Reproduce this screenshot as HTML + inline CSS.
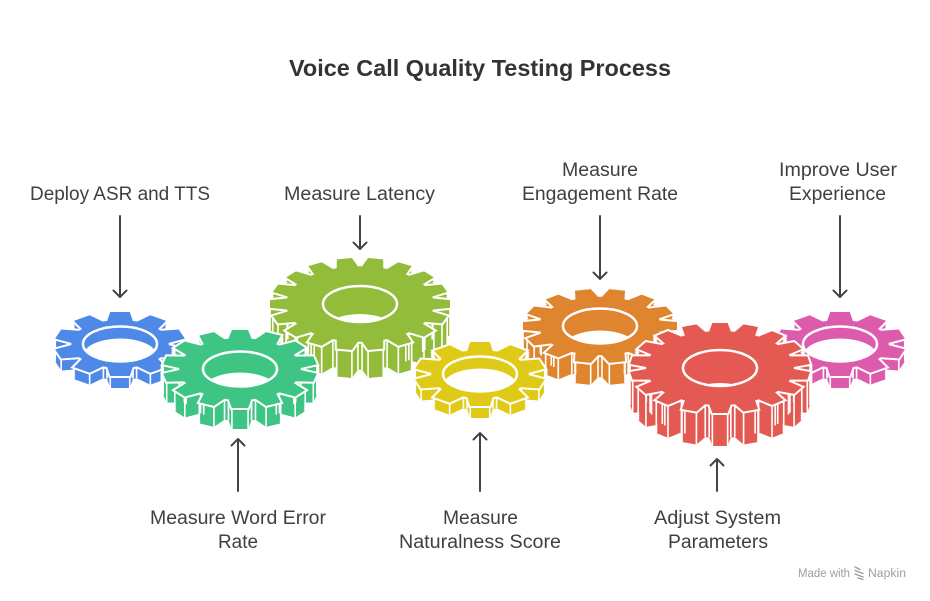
<!DOCTYPE html>
<html>
<head>
<meta charset="utf-8">
<style>
  html,body{margin:0;padding:0;background:#fff;}
  svg{display:block;}
  text{font-family:"Liberation Sans",Arial,sans-serif;}
</style>
</head>
<body>
<svg width="930" height="601" viewBox="0 0 930 601" xmlns="http://www.w3.org/2000/svg">
<rect width="930" height="601" fill="#fff"/>
<defs>
  <g id="g10">
    <circle r="75" vector-effect="non-scaling-stroke"/>
    <polygon id="t10" points="-20,-71 -15,-100 15,-100 20,-71" vector-effect="non-scaling-stroke"/>
    <use href="#t10" transform="rotate(36)"/>
    <use href="#t10" transform="rotate(72)"/>
    <use href="#t10" transform="rotate(108)"/>
    <use href="#t10" transform="rotate(144)"/>
    <use href="#t10" transform="rotate(180)"/>
    <use href="#t10" transform="rotate(216)"/>
    <use href="#t10" transform="rotate(252)"/>
    <use href="#t10" transform="rotate(288)"/>
    <use href="#t10" transform="rotate(324)"/>
  </g>
  <g id="g14">
    <circle r="79" vector-effect="non-scaling-stroke"/>
    <polygon id="t14" points="-15,-77.5 -10.5,-100 10.5,-100 15,-77.5" vector-effect="non-scaling-stroke"/>
    <use href="#t14" transform="rotate(25.714)"/>
    <use href="#t14" transform="rotate(51.429)"/>
    <use href="#t14" transform="rotate(77.143)"/>
    <use href="#t14" transform="rotate(102.857)"/>
    <use href="#t14" transform="rotate(128.571)"/>
    <use href="#t14" transform="rotate(154.286)"/>
    <use href="#t14" transform="rotate(180)"/>
    <use href="#t14" transform="rotate(205.714)"/>
    <use href="#t14" transform="rotate(231.429)"/>
    <use href="#t14" transform="rotate(257.143)"/>
    <use href="#t14" transform="rotate(282.857)"/>
    <use href="#t14" transform="rotate(308.571)"/>
    <use href="#t14" transform="rotate(334.286)"/>
  </g>
  <g id="g18">
    <circle r="82" vector-effect="non-scaling-stroke"/>
    <polygon id="t18" points="-12,-81 -8.5,-100 8.5,-100 12,-81" vector-effect="non-scaling-stroke"/>
    <use href="#t18" transform="rotate(20)"/>
    <use href="#t18" transform="rotate(40)"/>
    <use href="#t18" transform="rotate(60)"/>
    <use href="#t18" transform="rotate(80)"/>
    <use href="#t18" transform="rotate(100)"/>
    <use href="#t18" transform="rotate(120)"/>
    <use href="#t18" transform="rotate(140)"/>
    <use href="#t18" transform="rotate(160)"/>
    <use href="#t18" transform="rotate(180)"/>
    <use href="#t18" transform="rotate(200)"/>
    <use href="#t18" transform="rotate(220)"/>
    <use href="#t18" transform="rotate(240)"/>
    <use href="#t18" transform="rotate(260)"/>
    <use href="#t18" transform="rotate(280)"/>
    <use href="#t18" transform="rotate(300)"/>
    <use href="#t18" transform="rotate(320)"/>
    <use href="#t18" transform="rotate(340)"/>
  </g>

  <!-- vertical side-edge lines (unit coords) -->
  <path id="L10" vector-effect="non-scaling-stroke" d="M99.7 -16.6v37.5M73.7 -2.9v37.5M90.5 45.2v37.5M99.7 16.6v37.5M61.3 40.9v37.5M73.7 2.9v37.5M46.7 89.7v37.5M70.9 72.1v37.5M25.5 69.2v37.5M57.9 45.6v37.5M15 100v37.5M20 71v37.5M-15 100v37.5M-20 71v37.5M-99.7 -16.6v37.5M-73.7 -2.9v37.5M-90.5 45.2v37.5M-99.7 16.6v37.5M-61.3 40.9v37.5M-73.7 2.9v37.5M-46.7 89.7v37.5M-70.9 72.1v37.5M-25.5 69.2v37.5M-57.9 45.6v37.5"/>
  <path id="L14g" vector-effect="non-scaling-stroke" d="M99.8 -12.1v53.8M78.9 -2.6v53.8M95.2 32.5v53.8M99.8 12.1v53.8M72.3 31.8v53.8M78.9 2.6v53.8M71.7 70.6v53.8M84.7 54.2v53.8M51.2 60v53.8M70 36.6v53.8M33.9 94.7v53.8M52.9 85.5v53.8M20.1 76.3v53.8M47.1 63.3v53.8M10.5 100v53.8M15 77.5v53.8M-99.8 -12.1v53.8M-78.9 -2.6v53.8M-95.2 32.5v53.8M-99.8 12.1v53.8M-72.3 31.8v53.8M-78.9 2.6v53.8M-71.7 70.6v53.8M-84.7 54.2v53.8M-51.2 60v53.8M-70 36.6v53.8M-33.9 94.7v53.8M-52.9 85.5v53.8M-20.1 76.3v53.8M-47.1 63.3v53.8M-10.5 100v53.8M-15 77.5v53.8"/>
  <path id="L14o" vector-effect="non-scaling-stroke" d="M100 10.5v59.5M100 -10.5v59.5M77.5 15v59.5M77.5 -15v59.5M85.5 52.9v59.5M94.7 33.9v59.5M63.3 47.1v59.5M76.3 20.1v59.5M54.2 84.7v59.5M70.6 71.7v59.5M36.6 70v59.5M60 51.2v59.5M12.1 99.8v59.5M32.5 95.2v59.5M2.6 78.9v59.5M31.8 72.3v59.5M-100 10.5v59.5M-100 -10.5v59.5M-77.5 15v59.5M-77.5 -15v59.5M-85.5 52.9v59.5M-94.7 33.9v59.5M-63.3 47.1v59.5M-76.3 20.1v59.5M-54.2 84.7v59.5M-70.6 71.7v59.5M-36.6 70v59.5M-60 51.2v59.5M-12.1 99.8v59.5M-32.5 95.2v59.5M-2.6 78.9v59.5M-31.8 72.3v59.5"/>
  <path id="L18r" vector-effect="non-scaling-stroke" d="M100 -9v73.3M81.9 -2.3v73.3M97 25.8v73.3M100 9v73.3M77.7 25.9v73.3M81.9 2.3v73.3M82.3 57.4v73.3M90.9 42.6v73.3M64.1 50.9v73.3M76.1 30.1v73.3M57.8 82.1v73.3M70.8 71.1v73.3M42.9 69.7v73.3M61.3 54.3v73.3M26.2 96.9v73.3M42.2 91.1v73.3M16.4 80.2v73.3M39 72v73.3M8.5 100v73.3M12 81v73.3M-100 -9v73.3M-81.9 -2.3v73.3M-97 25.8v73.3M-100 9v73.3M-77.7 25.9v73.3M-81.9 2.3v73.3M-82.3 57.4v73.3M-90.9 42.6v73.3M-64.1 50.9v73.3M-76.1 30.1v73.3M-57.8 82.1v73.3M-70.8 71.1v73.3M-42.9 69.7v73.3M-61.3 54.3v73.3M-26.2 96.9v73.3M-42.2 91.1v73.3M-16.4 80.2v73.3M-39 72v73.3M-8.5 100v73.3M-12 81v73.3"/>
  <path id="L18o" vector-effect="non-scaling-stroke" d="M100 8.5v60.9M100 -8.5v60.9M81 12v60.9M81 -12v60.9M91.1 42.2v60.9M96.9 26.2v60.9M72 39v60.9M80.2 16.4v60.9M71.1 70.8v60.9M82.1 57.8v60.9M54.3 61.3v60.9M69.7 42.9v60.9M42.6 90.9v60.9M57.4 82.3v60.9M30.1 76.1v60.9M50.9 64.1v60.9M9 100v60.9M25.8 97v60.9M2.3 81.9v60.9M25.9 77.7v60.9M-100 8.5v60.9M-100 -8.5v60.9M-81 12v60.9M-81 -12v60.9M-91.1 42.2v60.9M-96.9 26.2v60.9M-72 39v60.9M-80.2 16.4v60.9M-71.1 70.8v60.9M-82.1 57.8v60.9M-54.3 61.3v60.9M-69.7 42.9v60.9M-42.6 90.9v60.9M-57.4 82.3v60.9M-30.1 76.1v60.9M-50.9 64.1v60.9M-9 100v60.9M-25.8 97v60.9M-2.3 81.9v60.9M-25.9 77.7v60.9"/>

  <!-- extrusion stacks -->
  <g id="S_olive">
    <use href="#g18" transform="translate(360,332) scale(.9,.46) rotate(10)"/>
    <use href="#g18" transform="translate(360,330) scale(.9,.46) rotate(10)"/>
    <use href="#g18" transform="translate(360,328) scale(.9,.46) rotate(10)"/>
    <use href="#g18" transform="translate(360,326) scale(.9,.46) rotate(10)"/>
    <use href="#g18" transform="translate(360,324) scale(.9,.46) rotate(10)"/>
    <use href="#g18" transform="translate(360,322) scale(.9,.46) rotate(10)"/>
    <use href="#g18" transform="translate(360,320) scale(.9,.46) rotate(10)"/>
    <use href="#g18" transform="translate(360,318) scale(.9,.46) rotate(10)"/>
    <use href="#g18" transform="translate(360,316) scale(.9,.46) rotate(10)"/>
    <use href="#g18" transform="translate(360,314) scale(.9,.46) rotate(10)"/>
    <use href="#g18" transform="translate(360,312) scale(.9,.46) rotate(10)"/>
    <use href="#g18" transform="translate(360,310) scale(.9,.46) rotate(10)"/>
    <use href="#g18" transform="translate(360,308) scale(.9,.46) rotate(10)"/>
    <use href="#g18" transform="translate(360,306) scale(.9,.46) rotate(10)"/>
  </g>
  <g id="S_orange">
    <use href="#g14" transform="translate(600,348) scale(.77,.37) rotate(12.857)"/>
    <use href="#g14" transform="translate(600,346) scale(.77,.37) rotate(12.857)"/>
    <use href="#g14" transform="translate(600,344) scale(.77,.37) rotate(12.857)"/>
    <use href="#g14" transform="translate(600,342) scale(.77,.37) rotate(12.857)"/>
    <use href="#g14" transform="translate(600,340) scale(.77,.37) rotate(12.857)"/>
    <use href="#g14" transform="translate(600,338) scale(.77,.37) rotate(12.857)"/>
    <use href="#g14" transform="translate(600,336) scale(.77,.37) rotate(12.857)"/>
    <use href="#g14" transform="translate(600,334) scale(.77,.37) rotate(12.857)"/>
    <use href="#g14" transform="translate(600,332) scale(.77,.37) rotate(12.857)"/>
    <use href="#g14" transform="translate(600,330) scale(.77,.37) rotate(12.857)"/>
    <use href="#g14" transform="translate(600,328) scale(.77,.37) rotate(12.857)"/>
  </g>
  <g id="S_blue">
    <use href="#g10" transform="translate(120,356) scale(.65,.32)"/>
    <use href="#g10" transform="translate(120,354) scale(.65,.32)"/>
    <use href="#g10" transform="translate(120,352) scale(.65,.32)"/>
    <use href="#g10" transform="translate(120,350) scale(.65,.32)"/>
    <use href="#g10" transform="translate(120,348) scale(.65,.32)"/>
    <use href="#g10" transform="translate(120,346) scale(.65,.32)"/>
  </g>
  <g id="S_pink">
    <use href="#g10" transform="translate(840,356) scale(.65,.32)"/>
    <use href="#g10" transform="translate(840,354) scale(.65,.32)"/>
    <use href="#g10" transform="translate(840,352) scale(.65,.32)"/>
    <use href="#g10" transform="translate(840,350) scale(.65,.32)"/>
    <use href="#g10" transform="translate(840,348) scale(.65,.32)"/>
    <use href="#g10" transform="translate(840,346) scale(.65,.32)"/>
  </g>
  <g id="S_green">
    <use href="#g14" transform="translate(240,390) scale(.77,.39)"/>
    <use href="#g14" transform="translate(240,388) scale(.77,.39)"/>
    <use href="#g14" transform="translate(240,386) scale(.77,.39)"/>
    <use href="#g14" transform="translate(240,384) scale(.77,.39)"/>
    <use href="#g14" transform="translate(240,382) scale(.77,.39)"/>
    <use href="#g14" transform="translate(240,380) scale(.77,.39)"/>
    <use href="#g14" transform="translate(240,378) scale(.77,.39)"/>
    <use href="#g14" transform="translate(240,376) scale(.77,.39)"/>
    <use href="#g14" transform="translate(240,374) scale(.77,.39)"/>
    <use href="#g14" transform="translate(240,372) scale(.77,.39)"/>
    <use href="#g14" transform="translate(240,370) scale(.77,.39)"/>
  </g>
  <g id="S_red">
    <use href="#g18" transform="translate(720,401) scale(.9,.45)"/>
    <use href="#g18" transform="translate(720,399) scale(.9,.45)"/>
    <use href="#g18" transform="translate(720,397) scale(.9,.45)"/>
    <use href="#g18" transform="translate(720,395) scale(.9,.45)"/>
    <use href="#g18" transform="translate(720,393) scale(.9,.45)"/>
    <use href="#g18" transform="translate(720,391) scale(.9,.45)"/>
    <use href="#g18" transform="translate(720,389) scale(.9,.45)"/>
    <use href="#g18" transform="translate(720,387) scale(.9,.45)"/>
    <use href="#g18" transform="translate(720,385) scale(.9,.45)"/>
    <use href="#g18" transform="translate(720,383) scale(.9,.45)"/>
    <use href="#g18" transform="translate(720,381) scale(.9,.45)"/>
    <use href="#g18" transform="translate(720,379) scale(.9,.45)"/>
    <use href="#g18" transform="translate(720,377) scale(.9,.45)"/>
    <use href="#g18" transform="translate(720,375) scale(.9,.45)"/>
    <use href="#g18" transform="translate(720,373) scale(.9,.45)"/>
    <use href="#g18" transform="translate(720,371) scale(.9,.45)"/>
    <use href="#g18" transform="translate(720,369) scale(.9,.45)"/>
  </g>
  <g id="S_yellow">
    <use href="#g10" transform="translate(480,386) scale(.65,.32)"/>
    <use href="#g10" transform="translate(480,384) scale(.65,.32)"/>
    <use href="#g10" transform="translate(480,382) scale(.65,.32)"/>
    <use href="#g10" transform="translate(480,380) scale(.65,.32)"/>
    <use href="#g10" transform="translate(480,378) scale(.65,.32)"/>
    <use href="#g10" transform="translate(480,376) scale(.65,.32)"/>
  </g>

  <clipPath id="c_olive"><ellipse cx="360" cy="304" rx="37" ry="18"/></clipPath>
  <clipPath id="c_orange"><ellipse cx="600" cy="326" rx="37" ry="17.5"/></clipPath>
  <clipPath id="c_blue"><ellipse cx="120" cy="344" rx="37" ry="17.5"/></clipPath>
  <clipPath id="c_pink"><ellipse cx="840" cy="344" rx="37" ry="17.5"/></clipPath>
  <clipPath id="c_green"><ellipse cx="240" cy="369" rx="37" ry="17.5"/></clipPath>
  <clipPath id="c_red"><ellipse cx="720" cy="368" rx="37" ry="18"/></clipPath>
  <clipPath id="c_yellow"><ellipse cx="480" cy="374" rx="37" ry="17.5"/></clipPath>
</defs>

<!-- Title -->
<text x="480" y="76" text-anchor="middle" font-size="23.5" font-weight="bold" fill="#333" textLength="382" lengthAdjust="spacingAndGlyphs">Voice Call Quality Testing Process</text>

<!-- OLIVE gear -->
<g>
  <use href="#S_olive" fill="#93BC3A" stroke="#fff" stroke-width="4"/>
  <use href="#S_olive" fill="#93BC3A" stroke="none"/>
  <use href="#L18o" transform="translate(360,304) scale(.9,.46)" fill="none" stroke="#fff" stroke-width="1.6"/>
  <use href="#g18" transform="translate(360,304) scale(.9,.46) rotate(10)" fill="#93BC3A" stroke="#fff" stroke-width="4"/>
  <use href="#g18" transform="translate(360,304) scale(.9,.46) rotate(10)" fill="#93BC3A" stroke="none"/>
  <ellipse cx="360" cy="332" rx="37" ry="18" fill="#fff" clip-path="url(#c_olive)"/>
  <ellipse cx="360" cy="304" rx="37" ry="18" fill="none" stroke="#fff" stroke-width="2.5"/>
</g>

<!-- ORANGE gear -->
<g>
  <use href="#S_orange" fill="#E0852F" stroke="#fff" stroke-width="4"/>
  <use href="#S_orange" fill="#E0852F" stroke="none"/>
  <use href="#L14o" transform="translate(600,326) scale(.77,.37)" fill="none" stroke="#fff" stroke-width="1.6"/>
  <use href="#g14" transform="translate(600,326) scale(.77,.37) rotate(12.857)" fill="#E0852F" stroke="#fff" stroke-width="4"/>
  <use href="#g14" transform="translate(600,326) scale(.77,.37) rotate(12.857)" fill="#E0852F" stroke="none"/>
  <ellipse cx="600" cy="348" rx="37" ry="17.5" fill="#fff" clip-path="url(#c_orange)"/>
  <ellipse cx="600" cy="326" rx="37" ry="17.5" fill="none" stroke="#fff" stroke-width="2.5"/>
</g>

<!-- BLUE gear -->
<g>
  <use href="#S_blue" fill="#4E89E8" stroke="#fff" stroke-width="4"/>
  <use href="#S_blue" fill="#4E89E8" stroke="none"/>
  <use href="#L10" transform="translate(120,344) scale(.65,.32)" fill="none" stroke="#fff" stroke-width="1.6"/>
  <use href="#g10" transform="translate(120,344) scale(.65,.32)" fill="#4E89E8" stroke="#fff" stroke-width="4"/>
  <use href="#g10" transform="translate(120,344) scale(.65,.32)" fill="#4E89E8" stroke="none"/>
  <ellipse cx="120" cy="356" rx="37" ry="17.5" fill="#fff" clip-path="url(#c_blue)"/>
  <ellipse cx="120" cy="344" rx="37" ry="17.5" fill="none" stroke="#fff" stroke-width="2.5"/>
</g>

<!-- PINK gear -->
<g>
  <use href="#S_pink" fill="#DD5BAD" stroke="#fff" stroke-width="4"/>
  <use href="#S_pink" fill="#DD5BAD" stroke="none"/>
  <use href="#L10" transform="translate(840,344) scale(.65,.32)" fill="none" stroke="#fff" stroke-width="1.6"/>
  <use href="#g10" transform="translate(840,344) scale(.65,.32)" fill="#DD5BAD" stroke="#fff" stroke-width="4"/>
  <use href="#g10" transform="translate(840,344) scale(.65,.32)" fill="#DD5BAD" stroke="none"/>
  <ellipse cx="840" cy="356" rx="37" ry="17.5" fill="#fff" clip-path="url(#c_pink)"/>
  <ellipse cx="840" cy="344" rx="37" ry="17.5" fill="none" stroke="#fff" stroke-width="2.5"/>
</g>

<!-- GREEN gear -->
<g>
  <use href="#S_green" fill="#3FC583" stroke="#fff" stroke-width="4"/>
  <use href="#S_green" fill="#3FC583" stroke="none"/>
  <use href="#L14g" transform="translate(240,369) scale(.77,.39)" fill="none" stroke="#fff" stroke-width="1.6"/>
  <use href="#g14" transform="translate(240,369) scale(.77,.39)" fill="#3FC583" stroke="#fff" stroke-width="4"/>
  <use href="#g14" transform="translate(240,369) scale(.77,.39)" fill="#3FC583" stroke="none"/>
  <ellipse cx="240" cy="390" rx="37" ry="17.5" fill="#fff" clip-path="url(#c_green)"/>
  <ellipse cx="240" cy="369" rx="37" ry="17.5" fill="none" stroke="#fff" stroke-width="2.5"/>
</g>

<!-- RED gear -->
<g>
  <use href="#S_red" fill="#E45A53" stroke="#fff" stroke-width="4"/>
  <use href="#S_red" fill="#E45A53" stroke="none"/>
  <use href="#L18r" transform="translate(720,368) scale(.9,.45)" fill="none" stroke="#fff" stroke-width="1.6"/>
  <use href="#g18" transform="translate(720,368) scale(.9,.45)" fill="#E45A53" stroke="#fff" stroke-width="4"/>
  <use href="#g18" transform="translate(720,368) scale(.9,.45)" fill="#E45A53" stroke="none"/>
  <ellipse cx="720" cy="401" rx="37" ry="18" fill="#fff" clip-path="url(#c_red)"/>
  <ellipse cx="720" cy="368" rx="37" ry="18" fill="none" stroke="#fff" stroke-width="2.5"/>
</g>

<!-- YELLOW gear -->
<g>
  <use href="#S_yellow" fill="#DFCB17" stroke="#fff" stroke-width="4"/>
  <use href="#S_yellow" fill="#DFCB17" stroke="none"/>
  <use href="#L10" transform="translate(480,374) scale(.65,.32)" fill="none" stroke="#fff" stroke-width="1.6"/>
  <use href="#g10" transform="translate(480,374) scale(.65,.32)" fill="#DFCB17" stroke="#fff" stroke-width="4"/>
  <use href="#g10" transform="translate(480,374) scale(.65,.32)" fill="#DFCB17" stroke="none"/>
  <ellipse cx="480" cy="386" rx="37" ry="17.5" fill="#fff" clip-path="url(#c_yellow)"/>
  <ellipse cx="480" cy="374" rx="37" ry="17.5" fill="none" stroke="#fff" stroke-width="2.5"/>
</g>

<!-- Arrows -->
<g stroke="#444" stroke-width="2" fill="none" stroke-linecap="round" stroke-linejoin="round">
  <path d="M120 216 V297 M113.5 290.5 L120 297 L126.5 290.5"/>
  <path d="M360 216 V249 M353.5 242.5 L360 249 L366.5 242.5"/>
  <path d="M600 216 V279 M593.5 272.5 L600 279 L606.5 272.5"/>
  <path d="M840 216 V297 M833.5 290.5 L840 297 L846.5 290.5"/>
  <path d="M238 491 V439 M231.5 445.5 L238 439 L244.5 445.5"/>
  <path d="M480 491 V433 M473.5 439.5 L480 433 L486.5 439.5"/>
  <path d="M717 491 V459 M710.5 465.5 L717 459 L723.5 465.5"/>
</g>

<!-- Labels -->
<g font-size="19" fill="#404040" text-anchor="middle">
  <text x="120" y="200" textLength="180" lengthAdjust="spacingAndGlyphs">Deploy ASR and TTS</text>
  <text x="359.5" y="200" textLength="151" lengthAdjust="spacingAndGlyphs">Measure Latency</text>
  <text x="600" y="176" textLength="76" lengthAdjust="spacingAndGlyphs">Measure</text>
  <text x="600" y="200" textLength="156" lengthAdjust="spacingAndGlyphs">Engagement Rate</text>
  <text x="838" y="176" textLength="118" lengthAdjust="spacingAndGlyphs">Improve User</text>
  <text x="837.5" y="200" textLength="97" lengthAdjust="spacingAndGlyphs">Experience</text>
  <text x="238" y="524" textLength="176" lengthAdjust="spacingAndGlyphs">Measure Word Error</text>
  <text x="238" y="548" textLength="40" lengthAdjust="spacingAndGlyphs">Rate</text>
  <text x="480.5" y="524" textLength="75" lengthAdjust="spacingAndGlyphs">Measure</text>
  <text x="480" y="548" textLength="162" lengthAdjust="spacingAndGlyphs">Naturalness Score</text>
  <text x="717.5" y="524" textLength="127" lengthAdjust="spacingAndGlyphs">Adjust System</text>
  <text x="718" y="548" textLength="100" lengthAdjust="spacingAndGlyphs">Parameters</text>
</g>

<!-- Made with Napkin -->
<g fill="#9d9d9d">
  <text x="798" y="577" font-size="11.5" textLength="52" lengthAdjust="spacingAndGlyphs">Made with</text>
  <path d="M855 567 l5 2.5 M855 570.5 l8 3 M855 574 l8 3 M858 578 l5 1.5" stroke="#9d9d9d" stroke-width="1.4" fill="none" stroke-linecap="round"/>
  <text x="868" y="577" font-size="11.5" textLength="38" lengthAdjust="spacingAndGlyphs">Napkin</text>
</g>
</svg>
</body>
</html>
